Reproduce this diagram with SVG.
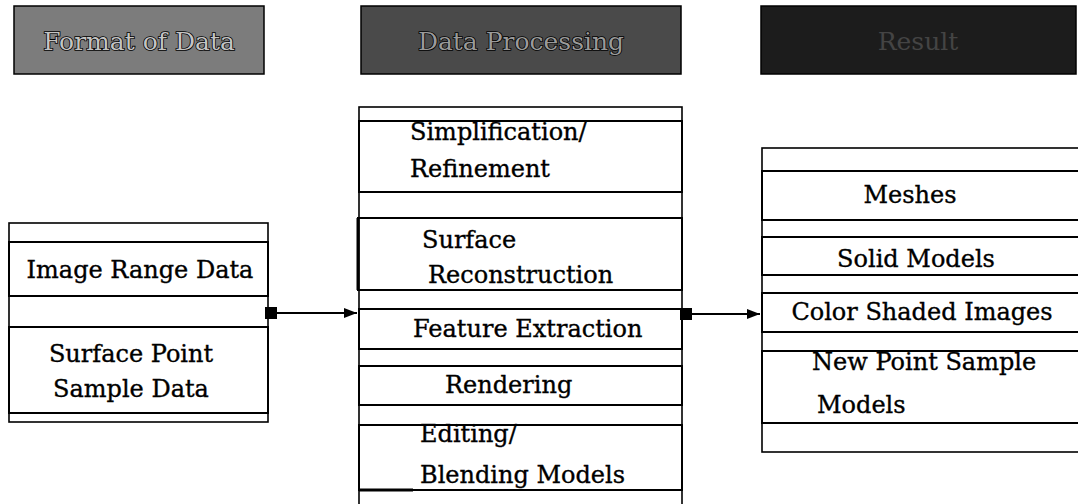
<svg xmlns="http://www.w3.org/2000/svg" width="1078" height="504" viewBox="0 0 1078 504">
  <style>
    .hdr-box{stroke:#000;stroke-width:1.5}
    .hdr-txt{font-family:"DejaVu Serif","Liberation Serif",serif;font-size:25px;text-anchor:middle;paint-order:stroke;stroke:#000;stroke-width:1.6}
    .col{fill:#fff;stroke:#000;stroke-width:1.6}
    .box{fill:none;stroke:#000;stroke-width:2}
    .t{font-family:"DejaVu Serif","Liberation Serif",serif;font-size:24px;fill:#000;stroke:#000;stroke-width:0.35}
    .c{text-anchor:middle}
    .conn{stroke:#000;stroke-width:2;fill:none;marker-start:url(#sq);marker-end:url(#arr)}
  </style>
  <defs>
    <marker id="arr" markerUnits="userSpaceOnUse" markerWidth="14" markerHeight="12" refX="13" refY="6" orient="auto">
      <path d="M0,1 L13,6 L0,11 Z" fill="#000"/>
    </marker>
    <marker id="sq" markerUnits="userSpaceOnUse" markerWidth="12" markerHeight="12" refX="6" refY="6" orient="auto">
      <rect x="0" y="0" width="12" height="12" fill="#000"/>
    </marker>
  </defs>
  <rect width="1078" height="504" fill="#fff"/>

  <g id="header-format">
    <rect class="hdr-box" x="14" y="6" width="250" height="68" fill="#7c7c7c"/>
    <text class="hdr-txt" x="139" y="50" fill="#c4c4c4">Format of Data</text>
  </g>
  <g id="header-processing">
    <rect class="hdr-box" x="361" y="6" width="320" height="68" fill="#4a4a4a"/>
    <text class="hdr-txt" x="521" y="50" fill="#9a9a9a">Data Processing</text>
  </g>
  <g id="header-result">
    <rect class="hdr-box" x="761" y="6" width="315" height="68" fill="#1c1c1c"/>
    <text class="hdr-txt" x="918" y="50" fill="#444" style="stroke:none">Result</text>
  </g>

  <g id="format-of-data">
    <rect class="col" x="9" y="223" width="259" height="199"/>
    <g id="image-range-data">
      <rect class="box" x="9" y="242" width="259" height="54"/>
      <text class="t c" x="140" y="278">Image Range Data</text>
    </g>
    <g id="surface-point-sample-data">
      <rect class="box" x="9" y="327" width="259" height="86"/>
      <text class="t c" x="131" y="362">Surface Point</text>
      <text class="t c" x="131" y="397">Sample Data</text>
    </g>
  </g>

  <g id="data-processing">
    <rect class="col" x="359" y="107" width="323" height="410"/>
    <g id="simplification">
      <rect class="box" x="359" y="121" width="323" height="71"/>
      <text class="t" x="410" y="140">Simplification/</text>
      <text class="t" x="410" y="177">Refinement</text>
    </g>
    <g id="surface-reconstruction">
      <rect class="box" x="358" y="218" width="324" height="72"/>
      <line x1="358" y1="218" x2="358" y2="290" stroke="#000" stroke-width="3"/>
      <text class="t" x="422" y="248">Surface</text>
      <text class="t" x="428" y="283">Reconstruction</text>
    </g>
    <g id="feature-extraction">
      <rect class="box" x="359" y="309" width="323" height="40"/>
      <text class="t" x="413" y="337">Feature Extraction</text>
    </g>
    <g id="rendering">
      <rect class="box" x="359" y="366" width="323" height="39"/>
      <text class="t" x="445" y="393">Rendering</text>
    </g>
    <g id="editing-blending">
      <rect class="box" x="359" y="425" width="323" height="65"/>
      <line x1="359" y1="490" x2="413" y2="490" stroke="#000" stroke-width="3"/>
      <text class="t" x="420" y="442">Editing/</text>
      <text class="t" x="420" y="483">Blending Models</text>
    </g>
  </g>

  <g id="result">
    <rect class="col" x="762" y="148" width="330" height="304"/>
    <g id="meshes">
      <rect class="box" x="762" y="171" width="330" height="49"/>
      <text class="t c" x="910" y="203">Meshes</text>
    </g>
    <g id="solid-models">
      <rect class="box" x="762" y="237" width="330" height="38"/>
      <text class="t c" x="916" y="267">Solid Models</text>
    </g>
    <g id="color-shaded-images">
      <rect class="box" x="762" y="293" width="330" height="39"/>
      <text class="t c" x="922" y="320">Color Shaded Images</text>
    </g>
    <g id="new-point-sample-models">
      <rect class="box" x="762" y="351" width="330" height="72"/>
      <text class="t" x="812" y="370">New Point Sample</text>
      <text class="t" x="817" y="413">Models</text>
    </g>
  </g>

  <g id="connectors">
    <line class="conn" x1="271" y1="313" x2="357" y2="313"/>
    <line class="conn" x1="686" y1="314" x2="760" y2="314"/>
  </g>
</svg>
